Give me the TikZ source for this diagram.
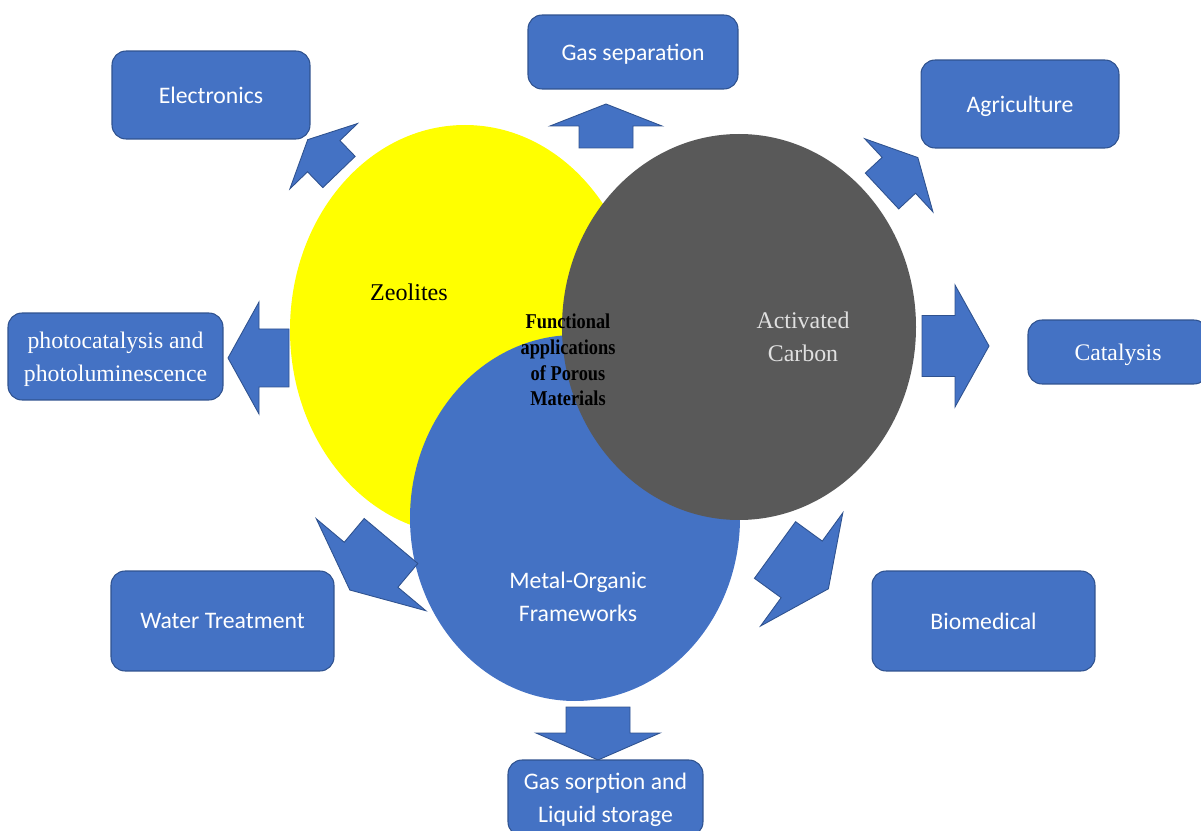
\documentclass[tikz,border=0pt]{standalone}
\usepackage{fontspec}
\setmainfont{Liberation Serif}
\setsansfont{Carlito}
\newfontfamily\narrowserif[FakeStretch=0.87]{Liberation Serif}

\definecolor{boxblue}{HTML}{4472C4}
\definecolor{edgeblue}{HTML}{2F528F}
\definecolor{carbongray}{HTML}{595959}
\definecolor{zeoyellow}{HTML}{FFFF00}

% block arrow: tail x, tail y, angle, length, shaft width, head width, head length
\newcommand{\blockarrow}[7]{%
    \begin{scope}[shift={(#1,#2)}, rotate=#3]
        \filldraw[arrowbody] (0,{-#5/2}) -- ({#4-#7},{-#5/2}) -- ({#4-#7},{-#6/2}) -- (#4,0)
            -- ({#4-#7},{#6/2}) -- ({#4-#7},{#5/2}) -- (0,{#5/2}) -- cycle;
    \end{scope}}

\begin{document}
\begin{tikzpicture}[x=0.02cm, y=-0.02cm,
    appbox/.style={rectangle, rounded corners=0.28cm, fill=boxblue, draw=edgeblue,
        line width=0.6pt, text=white, align=center, inner sep=2pt, text depth=0pt,
        font=\sffamily\fontsize{13.5}{18.7}\selectfont},
    serifbox/.style={appbox, font=\rmfamily\fontsize{13.5}{18.7}\selectfont},
    arrowbody/.style={fill=boxblue, draw=edgeblue, line width=0.5pt, line join=miter}]

    \useasboundingbox (0,0) rectangle (1201,831);
    \clip (0,0) rectangle (1201,831);

    %% Three overlapping materials
    % Zeolites
    \fill[zeoyellow] (465,330) ellipse [x radius=175, y radius=205];
    % Metal-Organic Frameworks
    \fill[boxblue] (575,518) ellipse [x radius=165, y radius=183];
    % Activated carbon
    \fill[carbongray] (739,327) ellipse [x radius=177, y radius=193];

    \node[font=\rmfamily\fontsize{13.7}{18.7}\selectfont] (zeolabel) at (409,292) {Zeolites};
    \node[font=\rmfamily\fontsize{13.6}{18.7}\selectfont, text=white!88!black, align=center]
        (carbonlabel) at (803,337) {Activated\\Carbon};
    \node[font=\sffamily\fontsize{13.5}{18.7}\selectfont, text=white, align=center]
        (moflabel) at (578,597) {Metal-Organic\\Frameworks};
    \node[font=\narrowserif\bfseries\fontsize{12}{14.6}\selectfont, align=center]
        (centrelabel) at (568,360) {Functional\\applications\\of Porous\\Materials};

    %% Block arrows
    \blockarrow{606}{148}{90}{44}{54}{112}{22}        % gas separation
    \blockarrow{339}{172}{134}{45}{45}{94}{23}        % electronics
    \blockarrow{882}{191}{43}{49}{49}{100}{26}        % agriculture
    \blockarrow{922}{346}{0}{67}{61}{122}{34}         % catalysis
    \blockarrow{289}{358}{180}{61}{58}{112}{31}       % photocatalysis
    \blockarrow{391}{541}{230}{64}{70}{143}{33}       % water treatment
    \blockarrow{775}{550}{-36}{66}{70}{140}{33}       % biomedical
    \blockarrow{598}{707}{-90}{53}{64}{124}{27}       % gas sorption

    %% Applications
    \node[appbox, minimum width=3.96cm, minimum height=1.76cm] (electronics) at (211,95) {Electronics};
    \node[appbox, minimum width=4.2cm, minimum height=1.48cm] (gassep) at (633,52) {Gas separation};
    \node[appbox, minimum width=3.96cm, minimum height=1.76cm] (agri) at (1020,104) {Agriculture};
    \node[serifbox, minimum width=3.6cm, minimum height=1.28cm] (catal) at (1118,352) {Catalysis};
    \node[serifbox, minimum width=4.3cm, minimum height=1.74cm] (photo) at (115.5,356.5)
        {photocatalysis and\\photoluminescence};
    \node[appbox, minimum width=4.46cm, minimum height=2cm] (water) at (222.5,621) {Water Treatment};
    \node[appbox, minimum width=4.46cm, minimum height=2cm] (biomed) at (983.5,621) {Biomedical};
    \node[appbox, minimum width=3.9cm, minimum height=1.52cm] (gassorp) at (605.5,798)
        {Gas sorption and\\Liquid storage};

\end{tikzpicture}
\end{document}
